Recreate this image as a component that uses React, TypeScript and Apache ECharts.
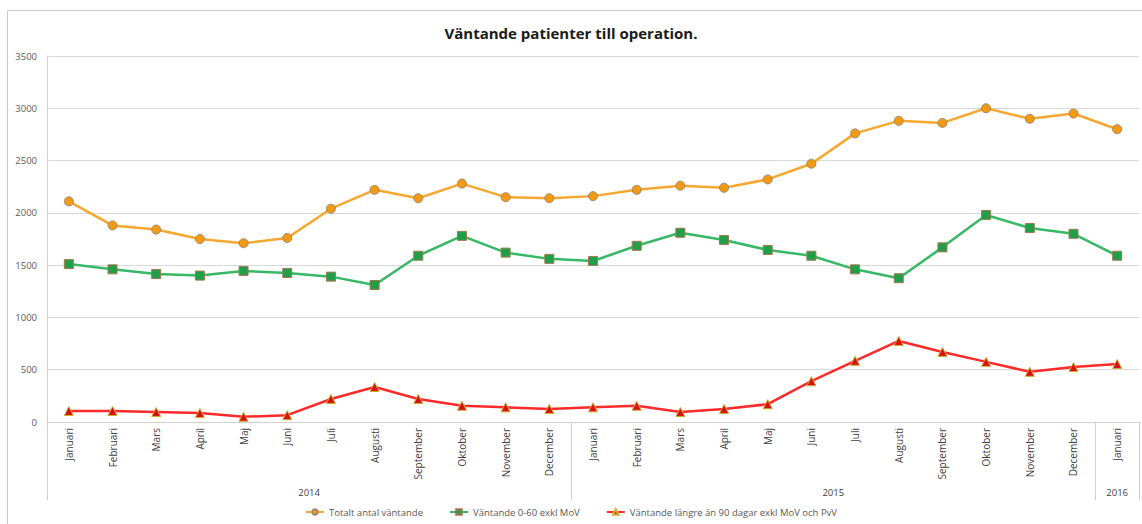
import React, { useEffect, useRef } from "react";
import * as echarts from "echarts";

const monthNames = [
  "Januari", "Februari", "Mars", "April", "Maj", "Juni",
  "Juli", "Augusti", "September", "Oktober", "November", "December",
];
const years = ["2014", "2015", "2016"];
const monthsPerYear = [12, 12, 1];

const totaltAntal = [
  2110, 1880, 1840, 1750, 1710, 1760, 2040, 2220, 2140, 2280, 2150, 2140,
  2160, 2220, 2260, 2240, 2320, 2470, 2760, 2880, 2860, 3000, 2900, 2950,
  2800,
];
const vantande060 = [
  1510, 1460, 1415, 1400, 1445, 1425, 1390, 1310, 1590, 1780, 1620, 1560,
  1540, 1685, 1810, 1740, 1645, 1590, 1460, 1375, 1670, 1980, 1855, 1800,
  1590,
];
const vantande90 = [
  105, 105, 95, 85, 50, 65, 220, 335, 220, 155, 140, 125,
  140, 155, 95, 125, 170, 390, 585, 775, 670, 575, 480, 525,
  555,
];

const seriesNames = [
  "Totalt antal väntande",
  "Väntande 0-60 exkl MoV",
  "Väntande längre än 90 dagar exkl MoV och PvV",
];

const yMin = 0;
const yMax = 3500;
const yInterval = 500;

// month categories built from the year structure
const categories: string[] = [];
const yearStarts: number[] = [];
years.forEach((y, yi) => {
  yearStarts.push(categories.length);
  for (let m = 0; m < monthsPerYear[yi]; m++) categories.push(monthNames[m]);
});
const N = categories.length;

// half-step axis for year labels and separators
const halfLabels: string[] = Array.from({ length: 2 * N + 1 }, () => "");
const boundaryIdx = new Set<number>();
years.forEach((y, yi) => {
  const s = yearStarts[yi];
  halfLabels[2 * s + monthsPerYear[yi]] = y;
  boundaryIdx.add(2 * s);
});
boundaryIdx.add(2 * N);
const halfData = halfLabels.map((_, i) => String(i));

export default function App() {
  const ref = useRef<HTMLDivElement>(null);
  useEffect(() => {
    if (!ref.current) return;
    const chart = echarts.init(ref.current, undefined, { renderer: "svg" });
    const font = "'Open Sans', 'Liberation Sans', sans-serif";
    chart.setOption({
      animation: false,
      backgroundColor: "#ffffff",
      textStyle: { fontFamily: font },
      title: {
        text: "Väntande patienter till operation.",
        left: "center",
        top: 20,
        textStyle: { fontSize: 15, fontWeight: "bold", color: "#1a1a1a", fontFamily: font },
      },
      graphic: [
        {
          type: "rect",
          shape: { x: 7.5, y: 10.5, width: 1200, height: 600 },
          style: { fill: "none", stroke: "#c8c8c8", lineWidth: 1 },
          silent: true,
        },
      ],
      legend: {
        bottom: 2,
        left: "center",
        itemWidth: 18,
        itemHeight: 7,
        itemGap: 26,
        textStyle: { fontSize: 9.5, color: "#595959", fontFamily: font },
        data: seriesNames,
      },
      grid: { left: 47, right: -2, top: 56, bottom: 102, containLabel: false },
      xAxis: [
        {
          type: "category",
          data: categories,
          boundaryGap: true,
          axisLine: { lineStyle: { color: "#d0d0d0" } },
          axisTick: { show: false },
          axisLabel: {
            interval: 0,
            rotate: 90,
            fontSize: 10,
            color: "#404040",
            margin: 6,
            fontFamily: font,
          },
        },
        {
          type: "category",
          data: halfData,
          position: "bottom",
          boundaryGap: false,
          axisLine: { show: false },
          axisTick: {
            show: true,
            length: 78,
            interval: (index: number) => boundaryIdx.has(index),
            lineStyle: { color: "#d0d0d0" },
          },
          axisLabel: {
            interval: 0,
            margin: 65,
            fontSize: 9.5,
            color: "#404040",
            fontFamily: font,
            formatter: (_v: string, index: number) => halfLabels[index],
          },
          splitLine: { show: false },
        },
      ],
      yAxis: {
        type: "value",
        min: yMin,
        max: yMax,
        interval: yInterval,
        axisLine: { show: true, lineStyle: { color: "#d0d0d0" } },
        axisTick: { show: false },
        axisLabel: {
          fontSize: 9.5,
          color: "#595959",
          margin: 10,
          fontFamily: font,
          formatter: (v: number) => String(v),
        },
        splitLine: { lineStyle: { color: "#d9d9d9" } },
      },
      series: [
        {
          name: seriesNames[0],
          type: "line",
          data: totaltAntal,
          symbol: "circle",
          symbolSize: 9,
          lineStyle: { color: "#f5a730", width: 2.5 },
          itemStyle: { color: "#f39a10", borderColor: "#9a8a70", borderWidth: 1 },
        },
        {
          name: seriesNames[1],
          type: "line",
          data: vantande060,
          symbol: "rect",
          symbolSize: 9,
          lineStyle: { color: "#36b864", width: 2.5 },
          itemStyle: { color: "#1fa048", borderColor: "#a07850", borderWidth: 1 },
        },
        {
          name: seriesNames[2],
          type: "line",
          data: vantande90,
          symbol: "triangle",
          symbolSize: 9,
          lineStyle: { color: "#ff2a2a", width: 2.5 },
          itemStyle: { color: "#d81010", borderColor: "#c8b030", borderWidth: 1 },
        },
      ],
    });
    return () => chart.dispose();
  }, []);
  return (
    <div
      ref={ref}
      style={{ position: "fixed", left: 0, top: 0, width: 1142, height: 524 }}
    />
  );
}
